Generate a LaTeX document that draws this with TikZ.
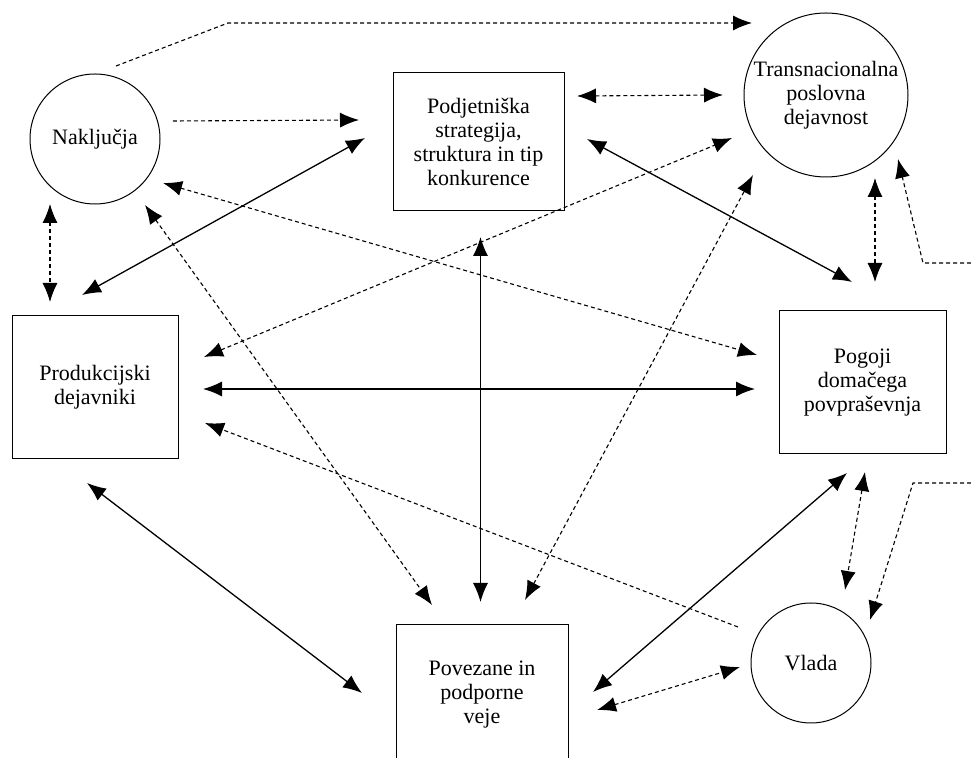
\documentclass[tikz,border=0pt]{standalone}
\usepackage{fontspec}
\setmainfont{Liberation Serif}
\usetikzlibrary{arrows.meta}

\begin{document}
\begin{tikzpicture}[x=0.5pt, y=-0.5pt, >={Latex[length=9.5pt,width=7.5pt]},
    box/.style={draw, line width=0.5pt, align=center, inner sep=0pt, font=\fontsize{11}{12}\selectfont},
    circ/.style={draw, circle, line width=0.5pt, align=center, inner sep=0pt, font=\fontsize{11}{12}\selectfont},
    sline/.style={line width=0.65pt},
    dline/.style={line width=0.55pt, dash pattern=on 2pt off 1.5pt}]
    \useasboundingbox (0,0) rectangle (971,758);

    % Dejavniki
    \node[circ, minimum size=65pt] (nak) at (95,139) {Naključja};
    \node[box, minimum width=85.5pt, minimum height=69pt] (pod) at (478.5,142) {Podjetniška\\strategija,\\struktura in tip\\konkurence};
    \node[circ, minimum size=82pt] (tra) at (826,95) {Transnacionalna\\poslovna\\dejavnost};
    \node[box, minimum width=83pt, minimum height=71.5pt] (pro) at (95,387.5) {Produkcijski\\dejavniki};
    \node[box, minimum width=83.5pt, minimum height=71.5pt] (pog) at (862.5,382.5) {Pogoji\\domačega\\povpraševnja};
    \node[box, minimum width=86pt, minimum height=70pt] (pov) at (482,695) {Povezane in\\podporne\\veje};
    \node[circ, minimum size=60pt] (vla) at (811,663) {Vlada};

    % Prosta konca na desnem robu
    \coordinate (robA) at (971,263);
    \coordinate (robB) at (971,483);

    % Polne puščice
    \draw[sline,<->] ([shift={(-113.5,-4)}]pod.center) -- ([shift={(-13,-92.5)}]pro.center);
    \draw[sline,<->] ([shift={(2,95)}]pod.center) -- ([shift={(-1.5,-93)}]pov.center);
    \draw[sline,<->] ([shift={(108.5,-3)}]pod.center) -- ([shift={(-10.5,-100.5)}]pog.center);
    \draw[sline,<->] ([shift={(108,1.5)}]pro.center) -- ([shift={(-107.5,6.5)}]pog.center);
    \draw[sline,<->] ([shift={(-8,95.5)}]pro.center) -- ([shift={(-120,-2)}]pov.center);
    \draw[sline,<->] ([shift={(111,-3)}]pov.center) -- ([shift={(-15.5,90.5)}]pog.center);

    % Črtkane puščice
    \draw[dline,->] ([shift={(21,-73)}]nak.center) -- ++(112,-43) -- ([shift={(-74,-72)}]tra.center);
    \draw[dline,->] ([shift={(78,-18)}]nak.center) -- ([shift={(-119.5,-22)}]pod.center);
    \draw[dline,<->] ([shift={(68,44)}]nak.center) -- ([shift={(-105.5,-27.5)}]pog.center);
    \draw[dline,<->] ([shift={(50,66)}]nak.center) -- ([shift={(-50,-90)}]pov.center);
    \draw[dline,<->] ([shift={(-45,65)}]nak.center) -- ([shift={(-45,-85.5)}]pro.center);
    \draw[dline,<->] ([shift={(109,-30.5)}]pro.center) -- ([shift={(-94,43)}]tra.center);
    \draw[dline,<->] ([shift={(98.5,-46)}]pod.center) -- ([shift={(-103,0)}]tra.center);
    \draw[dline,<->] ([shift={(43,-95)}]pov.center) -- ([shift={(-73,80)}]tra.center);
    \draw[dline,->] ([shift={(-73,-36)}]vla.center) -- ([shift={(110,35.5)}]pro.center);
    \draw[dline,<->] ([shift={(115,15)}]pov.center) -- ([shift={(-71,4)}]vla.center);
    \draw[dline,<->] ([shift={(49,83)}]tra.center) -- ([shift={(12.5,-100.5)}]pog.center);
    \draw[dline,<->] ([shift={(2.5,89.5)}]pog.center) -- ([shift={(34,-73)}]vla.center);
    \draw[dline,->] (robA) -- ++(-48,0) -- ([shift={(72,64)}]tra.center);
    \draw[dline,->] (robB) -- ++(-58,0) -- ([shift={(59,-43)}]vla.center);

\end{tikzpicture}
\end{document}
